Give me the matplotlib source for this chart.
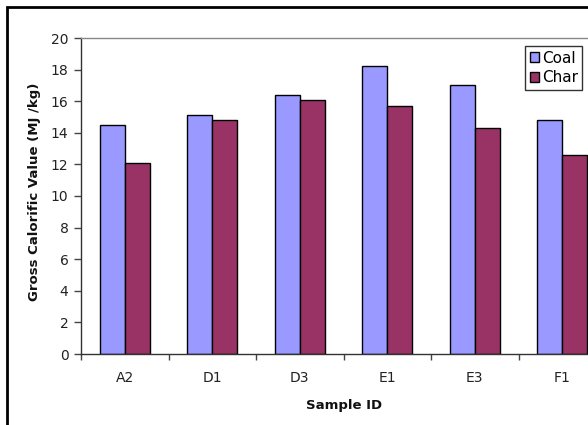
import matplotlib
matplotlib.use("Agg")
import matplotlib.pyplot as plt
import numpy as np
from matplotlib.patches import Rectangle

samples = ["A2", "D1", "D3", "E1", "E3", "F1"]
coal = [14.5, 15.1, 16.4, 18.2, 17.0, 14.8]
char = [12.1, 14.8, 16.1, 15.7, 14.3, 12.6]
yticks = [0, 2, 4, 6, 8, 10, 12, 14, 16, 18, 20]

plt.rcParams["font.family"] = ["DejaVu Sans"]

W, H = 588, 425
fig = plt.figure(figsize=(W / 100, H / 100), dpi=100)
fig.patch.set_facecolor("white")

# outer chart frame (extends past the right and bottom edges)
fig.patches.append(Rectangle((7 / W, -0.05), 1.2, 1 - 7 / H + 0.05,
                             transform=fig.transFigure, fill=False,
                             edgecolor="black", linewidth=2.0))

left, right, bottom, top = 81 / W, 606 / W, 1 - 354 / H, 1 - 38 / H
ax = fig.add_axes([left, bottom, right - left, top - bottom])

x = np.arange(len(samples))
bw = 0.286
ax.bar(x - bw / 2, coal, width=bw, color="#9999FF", edgecolor="black",
       linewidth=1.0, label="Coal")
ax.bar(x + bw / 2, char, width=bw, color="#993366", edgecolor="black",
       linewidth=1.0, label="Char")

ax.set_xlim(-0.5, len(samples) - 0.5)
ax.set_ylim(0, 20)
ax.set_yticks(yticks)
ax.set_yticklabels([str(v) for v in yticks], fontsize=10, color="#222222")
ax.set_xticks(x)
ax.set_xticklabels(samples, fontsize=10, color="#222222")
ax.set_xticks(np.arange(len(samples) + 1) - 0.5, minor=True)
ax.tick_params(axis="x", which="major", length=0, pad=12.5)
ax.tick_params(axis="x", which="minor", length=4, width=1, color="#444444")
ax.tick_params(axis="y", length=5, width=1, color="#444444", pad=4)

for s in ["left", "bottom"]:
    ax.spines[s].set_color("#333333")
    ax.spines[s].set_linewidth(1.0)
ax.spines["top"].set_color("#888888")
ax.spines["top"].set_linewidth(1.0)
ax.spines["right"].set_visible(False)

fig.text(35 / W, 1 - 192 / H, "Gross Calorific Value (MJ /kg)", rotation=90,
         ha="center", va="center", fontsize=9.5, fontweight="bold",
         color="#111111")
fig.text(344 / W, 1 - 405 / H, "Sample ID", ha="center", va="center",
         fontsize=9.5, fontweight="bold", color="#111111")

leg = ax.legend(loc="upper left", bbox_to_anchor=(525 / W, 1 - 46 / H),
                bbox_transform=fig.transFigure, fontsize=11, frameon=True,
                fancybox=False, handlelength=0.6, handleheight=0.6,
                handletextpad=0.2, borderpad=0.3, labelspacing=0.3,
                borderaxespad=0)
leg.get_frame().set_edgecolor("black")
leg.get_frame().set_linewidth(1.0)

fig.savefig("out.png", dpi=100)
